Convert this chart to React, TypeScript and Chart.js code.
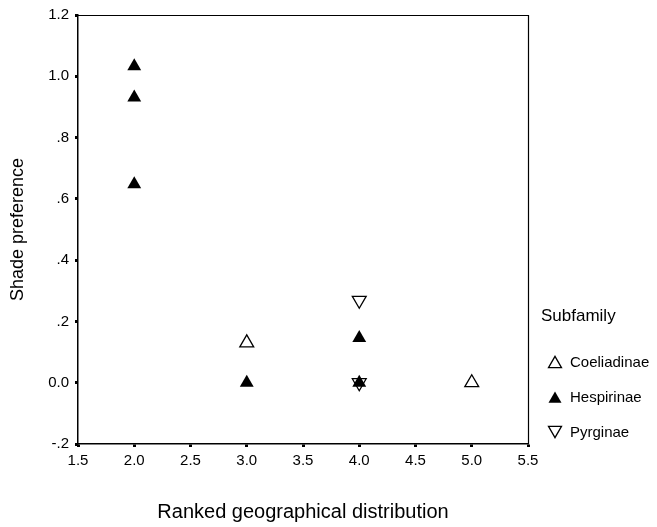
import React, { useEffect, useRef } from 'react';
import { Chart, registerables } from 'chart.js';

Chart.register(...registerables);

// ---- data ----
const seriesNames = ['Coeliadinae', 'Hespirinae', 'Pyrginae'];
const coeliadinaeX = [3, 5];
const coeliadinaeY = [0.13, 0.0];
const hespirinaeX = [2, 2, 2, 3, 4, 4];
const hespirinaeY = [1.033, 0.931, 0.648, 0.0, 0.146, 0.0];
const pyrginaeX = [4, 4];
const pyrginaeY = [0.269, 0.0];

const xMin = 1.5;
const xMax = 5.5;
const xStep = 0.5;
const yMin = -0.2;
const yMax = 1.2;
const yStep = 0.2;

const xTitle = 'Ranked geographical distribution';
const yTitle = 'Shade preference';
const legendTitle = 'Subfamily';

const FONT = '"Liberation Sans", Arial, Helvetica, sans-serif';

function toPoints(xs: number[], ys: number[]) {
  return xs.map((x, i) => ({ x, y: ys[i] }));
}

function fmtY(v: number): string {
  const r = Math.round(v * 10) / 10;
  if (r === 0) return '0.0';
  let s = r.toFixed(1);
  if (Math.abs(r) < 1) s = s.replace('0.', '.');
  return s;
}

function drawTri(ctx: CanvasRenderingContext2D, cx: number, cy: number, r: number, down: boolean, filled: boolean) {
  ctx.beginPath();
  const h = r * 1.5;
  const w = r * 1.732;
  if (!down) {
    ctx.moveTo(cx, cy - h / 2);
    ctx.lineTo(cx + w / 2, cy + h / 2);
    ctx.lineTo(cx - w / 2, cy + h / 2);
  } else {
    ctx.moveTo(cx, cy + h / 2);
    ctx.lineTo(cx + w / 2, cy - h / 2);
    ctx.lineTo(cx - w / 2, cy - h / 2);
  }
  ctx.closePath();
  if (filled) {
    ctx.fillStyle = '#000';
    ctx.fill();
  } else {
    ctx.lineWidth = 1.3;
    ctx.strokeStyle = '#000';
    ctx.stroke();
  }
}

const framePlugin = {
  id: 'frameAndLegend',
  afterDraw(chart: any) {
    const ctx: CanvasRenderingContext2D = chart.ctx;
    const a = chart.chartArea;
    ctx.save();
    ctx.strokeStyle = '#000';
    ctx.lineWidth = 1.2;
    ctx.beginPath();
    ctx.moveTo(a.left, a.top + 0.5);
    ctx.lineTo(a.right + 0.5, a.top + 0.5);
    ctx.lineTo(a.right + 0.5, a.bottom);
    ctx.stroke();

    // legend
    const lx = a.right + 13;
    ctx.fillStyle = '#000';
    ctx.textAlign = 'left';
    ctx.textBaseline = 'middle';
    ctx.font = `17px ${FONT}`;
    ctx.fillText(legendTitle, lx, 316);
    ctx.font = `15px ${FONT}`;
    const rows = [362, 397, 432];
    const styles = [
      { down: false, filled: false },
      { down: false, filled: true },
      { down: true, filled: false },
    ];
    seriesNames.forEach((name, i) => {
      drawTri(ctx, lx + 14, rows[i], 7.5, styles[i].down, styles[i].filled);
      ctx.fillStyle = '#000';
      ctx.fillText(name, lx + 29, rows[i] + 1);
    });
    ctx.restore();
  },
};

export default function App() {
  const ref = useRef<HTMLCanvasElement | null>(null);

  useEffect(() => {
    if (!ref.current) return;
    Chart.defaults.font.family = FONT;
    const common = {
      showLine: false,
      pointRadius: 8,
      pointHoverRadius: 8,
    };
    const chart = new Chart(ref.current, {
      type: 'scatter',
      data: {
        datasets: [
          {
            ...common,
            label: seriesNames[2],
            data: toPoints(pyrginaeX, pyrginaeY),
            pointStyle: 'triangle',
            rotation: 180,
            backgroundColor: 'rgba(0,0,0,0)',
            borderColor: '#000',
            borderWidth: 1.3,
            order: 0,
          },
          {
            ...common,
            label: seriesNames[0],
            data: toPoints(coeliadinaeX, coeliadinaeY),
            pointStyle: 'triangle',
            backgroundColor: 'rgba(0,0,0,0)',
            borderColor: '#000',
            borderWidth: 1.3,
            order: 1,
          },
          {
            ...common,
            label: seriesNames[1],
            data: toPoints(hespirinaeX, hespirinaeY),
            pointStyle: 'triangle',
            backgroundColor: '#000',
            borderColor: '#000',
            borderWidth: 0,
            order: 2,
          },
        ],
      },
      options: {
        responsive: false,
        animation: false,
        events: [],
        layout: { padding: { left: 0, right: 129, top: 10, bottom: 0 } },
        plugins: {
          legend: { display: false },
          tooltip: { enabled: false },
        },
        scales: {
          x: {
            type: 'linear',
            min: xMin,
            max: xMax,
            ticks: {
              stepSize: xStep,
              callback: (v: any) => Number(v).toFixed(1),
              font: { size: 15 },
              color: '#000',
              padding: 5,
            },
            grid: {
              drawOnChartArea: false,
              drawTicks: true,
              tickLength: 3,
              tickWidth: 3,
              tickColor: '#000',
              color: '#000',
            },
            border: { display: true, color: '#000', width: 1.5 },
            title: {
              display: true,
              text: xTitle,
              color: '#000',
              font: { size: 20 },
              padding: { top: 0, bottom: 3 },
            },
            afterFit: (s: any) => {
              s.height = 83;
            },
          },
          y: {
            type: 'linear',
            min: yMin,
            max: yMax,
            ticks: {
              stepSize: yStep,
              callback: (v: any) => fmtY(Number(v)),
              font: { size: 15 },
              color: '#000',
              padding: 6,
            },
            grid: {
              drawOnChartArea: false,
              drawTicks: true,
              tickLength: 3,
              tickWidth: 3,
              tickColor: '#000',
              color: '#000',
            },
            border: { display: true, color: '#000', width: 1.5 },
            title: {
              display: true,
              text: yTitle,
              color: '#000',
              font: { size: 18 },
              padding: { top: 7, bottom: 0 },
            },
            afterFit: (s: any) => {
              s.width = 78;
            },
          },
        },
      },
      plugins: [framePlugin],
    } as any);
    return () => chart.destroy();
  }, []);

  return (
    <div style={{ position: 'fixed', left: 0, top: 0, width: 657, height: 527, background: '#fff' }}>
      <canvas ref={ref} width={657} height={527} style={{ width: 657, height: 527, display: 'block' }} />
    </div>
  );
}
